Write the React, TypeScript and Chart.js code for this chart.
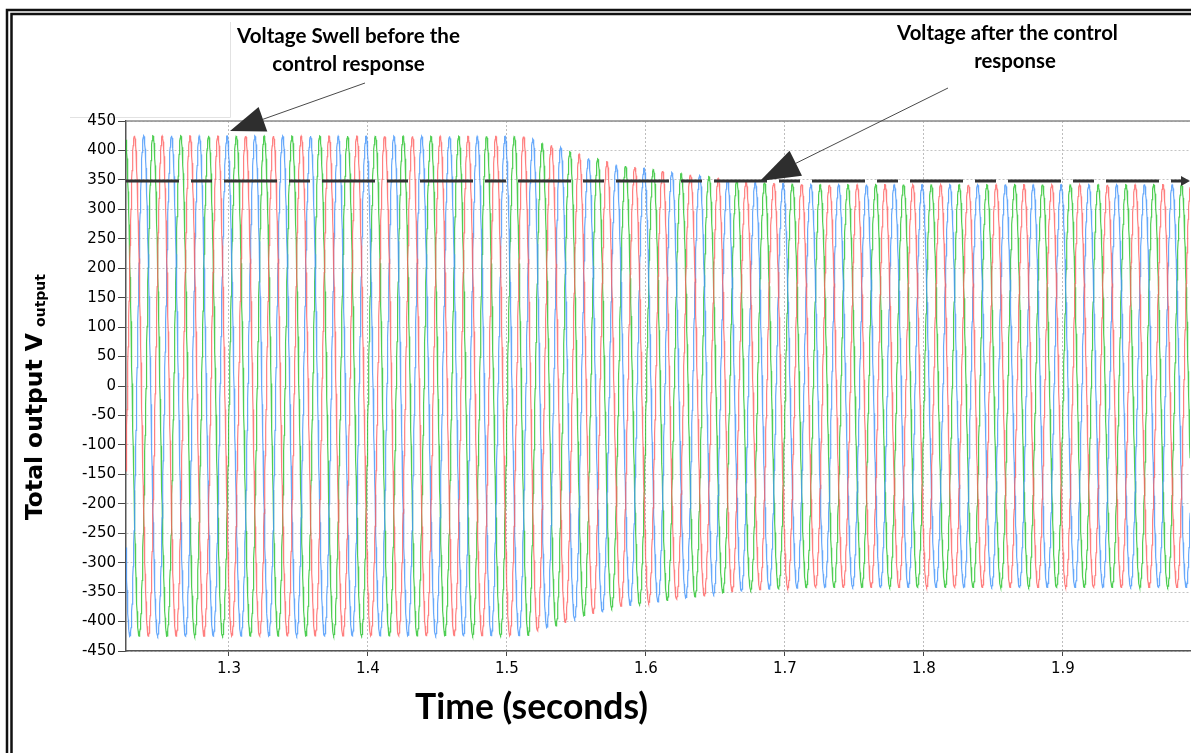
import React, { useEffect, useRef } from "react";
import { Chart, registerables } from "chart.js";

Chart.register(...registerables);

// ---- data ----
const timeTicks = [1.3, 1.4, 1.5, 1.6, 1.7, 1.8, 1.9];
const voltageTicks = [450, 400, 350, 300, 250, 200, 150, 100, 50, 0, -50, -100, -150, -200, -250, -300, -350, -400, -450];
const timeMin = 1.2259;
const timeMax = 1.9914;

// peak amplitude (V) of the three-phase output
const envelopeTimes = [1.2259, 1.515, 1.525, 1.532, 1.538, 1.545, 1.552, 1.558, 1.565, 1.572, 1.578, 1.592, 1.605, 1.618, 1.632, 1.645, 1.658, 1.68, 1.72, 1.9914];
const envelopeAmps = [425, 424, 412, 409, 406, 398, 394, 387, 386, 381, 375, 372, 368, 363, 359, 356, 350, 346, 342, 342];

const frequencyHz = 50;
const firstRedPeak = 1.292;
const phaseNames = ["Phase A", "Phase B", "Phase C"];
const phaseLagCycles = [0, 1 / 3, 2 / 3];
const sampleStep = 0.0002;

const referenceLevel = 348;
const swellTip = { t: 1.3007, v: 433 };
const settledTip = { t: 1.682, v: 348 };

const annotationSwell = ["Voltage Swell before the", "control response"];
const annotationAfter = ["Voltage after the control", "response"];
const xTitle = "Time (seconds)";
const yTitleMain = "Total output V";
const yTitleSub = "output";

// ---- styles ----
const phaseColors = ["rgba(255,95,95,0.8)", "rgba(70,150,250,0.82)", "rgba(40,195,45,0.82)"];
const tickFont = { family: "DejaVu Sans", size: 15 };

function amplitudeAt(t: number): number {
  for (let i = 1; i < envelopeTimes.length; i++) {
    if (t <= envelopeTimes[i]) {
      const t0 = envelopeTimes[i - 1];
      const t1 = envelopeTimes[i];
      const f = (t - t0) / (t1 - t0);
      return envelopeAmps[i - 1] + f * (envelopeAmps[i] - envelopeAmps[i - 1]);
    }
  }
  return envelopeAmps[envelopeAmps.length - 1];
}

function buildPhase(lag: number) {
  const pts: { x: number; y: number }[] = [];
  const n = Math.ceil((timeMax - timeMin) / sampleStep);
  for (let i = 0; i <= n; i++) {
    const t = timeMin + i * sampleStep;
    const a = amplitudeAt(t);
    pts.push({ x: t, y: a * Math.cos(2 * Math.PI * frequencyHz * (t - firstRedPeak) - 2 * Math.PI * lag) });
  }
  return pts;
}

function fitFont(ctx: CanvasRenderingContext2D, text: string, family: string, weight: string, width: number) {
  ctx.font = `${weight} 100px "${family}"`;
  const w = ctx.measureText(text).width;
  return (100 * width) / w;
}

function drawArrow(ctx: CanvasRenderingContext2D, x0: number, y0: number, x1: number, y1: number, headLen: number, headHalf: number) {
  const dx = x1 - x0;
  const dy = y1 - y0;
  const len = Math.hypot(dx, dy);
  const ux = dx / len;
  const uy = dy / len;
  const bx = x1 - ux * headLen;
  const by = y1 - uy * headLen;
  ctx.save();
  ctx.strokeStyle = "#4a4a4a";
  ctx.lineWidth = 1;
  ctx.beginPath();
  ctx.moveTo(x0, y0);
  ctx.lineTo(bx, by);
  ctx.stroke();
  ctx.fillStyle = "#2e2e2e";
  ctx.beginPath();
  ctx.moveTo(x1, y1);
  ctx.lineTo(bx - uy * headHalf, by + ux * headHalf);
  ctx.lineTo(bx + uy * headHalf, by - ux * headHalf);
  ctx.closePath();
  ctx.fill();
  ctx.restore();
}

const decorPlugin = {
  id: "decor",
  beforeDraw(chart: any) {
    const ctx = chart.ctx;
    ctx.save();
    ctx.fillStyle = "#ffffff";
    ctx.fillRect(0, 0, chart.width, chart.height);
    // faint box around annotation area
    ctx.strokeStyle = "#e2e2e2";
    ctx.lineWidth = 1;
    ctx.beginPath();
    ctx.moveTo(230.5, 22);
    ctx.lineTo(230.5, 117.5);
    ctx.lineTo(70, 117.5);
    ctx.stroke();
    ctx.restore();
  },
  afterDatasetsDraw(chart: any) {
    const ctx = chart.ctx;
    const ca = chart.chartArea;
    const xs = chart.scales.x;
    const ys = chart.scales.y;
    ctx.save();
    // top border of plot
    ctx.strokeStyle = "#8c8c8c";
    ctx.lineWidth = 1.5;
    ctx.beginPath();
    ctx.moveTo(ca.left, ca.top);
    ctx.lineTo(ca.right, ca.top);
    ctx.stroke();

    // dashed reference level with arrow
    const yRef = ys.getPixelForValue(referenceLevel);
    ctx.strokeStyle = "#333333";
    ctx.lineWidth = 3;
    ctx.setLineDash([53, 12, 21, 12]);
    ctx.beginPath();
    ctx.moveTo(ca.left, yRef);
    ctx.lineTo(ca.right - 6, yRef);
    ctx.stroke();
    ctx.setLineDash([]);
    ctx.fillStyle = "#333333";
    ctx.beginPath();
    ctx.moveTo(ca.right, yRef);
    ctx.lineTo(ca.right - 9, yRef - 5);
    ctx.lineTo(ca.right - 9, yRef + 5);
    ctx.closePath();
    ctx.fill();
    ctx.restore();

    // annotation arrows
    drawArrow(ctx, 365, 83, xs.getPixelForValue(swellTip.t), ys.getPixelForValue(swellTip.v), 35, 13);
    drawArrow(ctx, 948, 88, xs.getPixelForValue(settledTip.t), ys.getPixelForValue(settledTip.v), 40, 14);
  },
  afterDraw(chart: any) {
    const ctx = chart.ctx;
    ctx.save();
    ctx.fillStyle = "#000000";
    ctx.textBaseline = "alphabetic";
    ctx.textAlign = "center";

    // annotation texts
    const s1 = fitFont(ctx, annotationSwell[0], "Lato", "bold", 223);
    ctx.font = `bold ${s1}px "Lato"`;
    ctx.fillText(annotationSwell[0], 348.5, 43);
    ctx.fillText(annotationSwell[1], 348.5, 71);
    const s2 = fitFont(ctx, annotationAfter[0], "Lato", "bold", 221);
    ctx.font = `bold ${s2}px "Lato"`;
    ctx.fillText(annotationAfter[0], 1007.5, 40);
    ctx.fillText(annotationAfter[1], 1015, 68);

    // x title
    const s3 = fitFont(ctx, xTitle, "Lato", "bold", 233);
    ctx.font = `bold ${s3}px "Lato"`;
    ctx.fillText(xTitle, 531.5, 719);

    // y title (rotated) with subscript
    ctx.textAlign = "left";
    const s4 = fitFont(ctx, yTitleMain, "DejaVu Sans", "bold", 187);
    const s5 = fitFont(ctx, yTitleSub, "DejaVu Sans", "bold", 53);
    ctx.save();
    ctx.translate(42, 520);
    ctx.rotate(-Math.PI / 2);
    ctx.font = `bold ${s4}px "DejaVu Sans"`;
    const wMain = ctx.measureText(yTitleMain + " ").width;
    ctx.fillText(yTitleMain, 0, 0);
    ctx.font = `bold ${s5}px "DejaVu Sans"`;
    ctx.fillText(yTitleSub, wMain - 2, 3);
    ctx.restore();

    // double frame (left and top)
    ctx.strokeStyle = "#111111";
    ctx.lineWidth = 2.5;
    ctx.beginPath();
    ctx.moveTo(7, chart.height);
    ctx.lineTo(7, 10);
    ctx.lineTo(chart.width, 10);
    ctx.stroke();
    ctx.beginPath();
    ctx.moveTo(11.5, chart.height);
    ctx.lineTo(11.5, 14);
    ctx.lineTo(chart.width, 14);
    ctx.stroke();
    ctx.restore();
  },
};

export default function App() {
  const canvasRef = useRef<HTMLCanvasElement | null>(null);

  useEffect(() => {
    const canvas = canvasRef.current;
    if (!canvas) return;
    const datasets = phaseNames.map((name, i) => ({
      label: name,
      data: buildPhase(phaseLagCycles[i]),
      borderColor: phaseColors[i],
      borderWidth: 1.2,
      pointRadius: 0,
      fill: false,
      tension: 0,
    }));
    const chart = new Chart(canvas, {
      type: "line",
      data: { datasets },
      plugins: [decorPlugin],
      options: {
        responsive: false,
        animation: false,
        parsing: false,
        normalized: true,
        layout: { padding: { left: 0, top: 121, right: 1, bottom: 0 } },
        plugins: {
          legend: { display: false },
          tooltip: { enabled: false },
          title: { display: false },
        },
        scales: {
          x: {
            type: "linear",
            min: timeMin,
            max: timeMax,
            afterFit: (s: any) => {
              s.height = 102;
            },
            afterBuildTicks: (s: any) => {
              s.ticks = timeTicks.map((v) => ({ value: v }));
            },
            ticks: {
              font: tickFont,
              color: "#000000",
              padding: 4,
              maxRotation: 0,
              autoSkip: false,
              callback: (v: any) => String(v),
            },
            grid: {
              color: "#bdbdbd",
              lineWidth: 1,
              tickLength: 5,
              tickColor: "#444444",
              tickBorderDash: [],
            },
            border: { display: true, color: "#555555", width: 1.5, dash: [2, 2] },
          },
          y: {
            type: "linear",
            min: -450,
            max: 450,
            afterFit: (s: any) => {
              s.width = 126;
            },
            afterBuildTicks: (s: any) => {
              s.ticks = voltageTicks.map((v) => ({ value: v }));
            },
            ticks: {
              font: tickFont,
              color: "#000000",
              padding: 2,
              autoSkip: false,
              callback: (v: any) => String(v),
            },
            grid: {
              color: "#c4c4c4",
              lineWidth: 1,
              tickLength: 8,
              tickColor: "#444444",
              tickBorderDash: [],
            },
            border: { display: true, color: "#555555", width: 1.5, dash: [2, 2] },
          },
        },
      },
    } as any);
    return () => chart.destroy();
  }, []);

  return (
    <div style={{ position: "fixed", left: 0, top: 0, width: 1191, height: 753, background: "#fff" }}>
      <canvas ref={canvasRef} width={1191} height={753} style={{ display: "block" }} />
    </div>
  );
}
